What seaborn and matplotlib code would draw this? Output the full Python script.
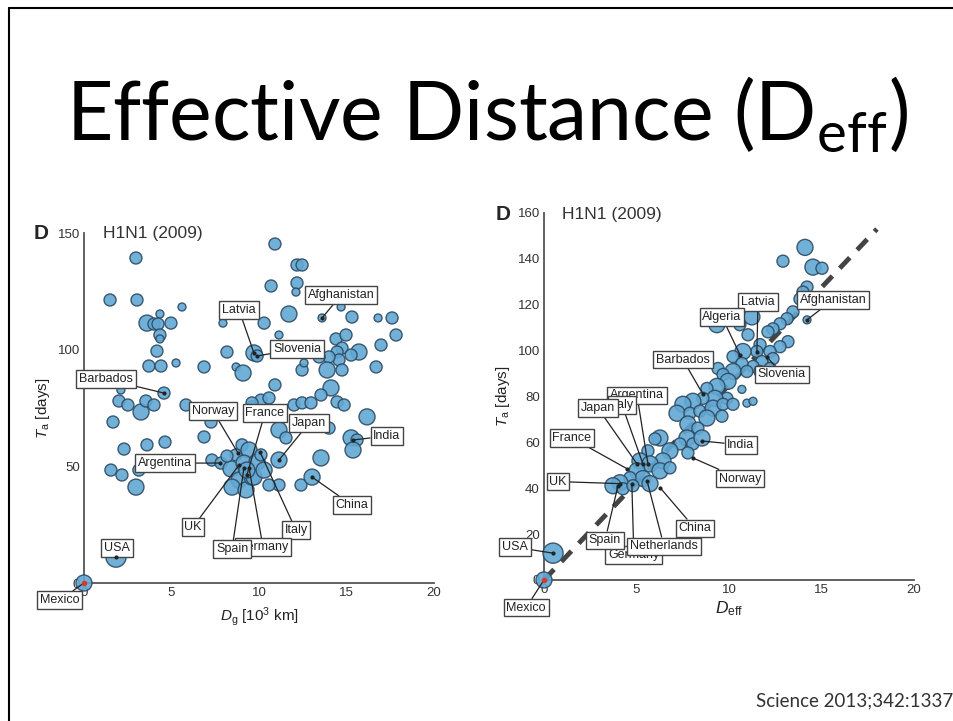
import seaborn as sns
import pandas as pd
import matplotlib.pyplot as plt

# left panel: geographic distance vs arrival time (size = traffic class)
left_dg = [2.97, 1.49, 3.03, 4.34, 5.6, 3.6, 4.0, 4.23, 4.97, 4.34, 4.34, 4.17, 3.71, 4.4, 5.26,
           6.86, 7.94, 8.17, 8.69, 9.09, 9.71, 4.57, 2.11, 2.0, 2.51, 3.26, 3.54, 4.0, 5.83, 1.66,
           6.86, 7.26, 2.29, 3.6, 4.63, 1.54, 2.17, 2.97, 3.14, 7.31, 7.83, 8.4, 9.03, 8.69, 9.43,
           8.86, 8.46, 9.26, 9.6, 9.6, 10.91, 14.11, 13.54, 14.46, 14.86, 12.0, 12.46, 12.97, 11.14,
           11.54, 14.0, 16.17, 15.26, 15.6, 15.37, 11.14, 13.54, 11.14, 12.4, 13.03, 9.71, 10.91,
           12.17, 12.46, 10.69, 12.17, 12.11, 11.71, 10.29, 11.14, 13.6, 14.69, 15.31, 16.8, 17.6,
           17.83, 16.97, 14.4, 14.97, 14.74, 15.71, 14.46, 15.26, 14.57, 14.0, 13.43, 12.46, 12.57,
           13.89, 14.74, 16.69, 9.89, 9.14, 9.89, 10.29, 10.11, 9.31, 10.57, 8.17, 10.11, 10.57,
           9.6, 1.83, 0.0]
left_ta = [139.3, 121.3, 121.3, 115.3, 118.3, 111.4, 111.0, 111.0, 111.4, 106.3, 104.6, 99.4, 93.0,
           93.0, 94.3, 92.6, 111.4, 99.0, 92.6, 90.0, 98.6, 81.4, 82.7, 78.0, 76.3, 73.3, 78.0, 76.3,
           76.3, 69.0, 62.6, 69.0, 57.4, 59.2, 60.4, 48.4, 46.3, 41.1, 48.4, 52.7, 51.4, 48.9, 59.2,
           54.9, 57.0, 44.1, 41.1, 39.9, 45.4, 75.4, 84.9, 83.6, 80.6, 77.6, 76.3, 76.3, 77.2, 77.2,
           65.6, 62.2, 66.4, 71.2, 62.2, 61.3, 57.0, 52.7, 53.6, 42.0, 42.0, 45.4, 45.4, 145.3, 136.3,
           136.3, 127.3, 128.6, 124.7, 115.3, 111.4, 106.3, 113.6, 118.3, 114.0, 113.6, 113.6, 106.3,
           102.0, 104.6, 106.3, 100.7, 99.0, 99.0, 97.7, 95.6, 96.9, 96.9, 91.3, 94.3, 91.3, 91.3,
           92.6, 97.3, 51.4, 51.9, 48.4, 54.9, 48.4, 42.0, 54.4, 78.4, 79.3, 77.2, 11.1, 0.0]
left_w = [2, 2, 2, 1, 1, 3, 2, 2, 2, 2, 1, 2, 2, 2, 1, 2, 1, 2, 1, 3, 3, 2, 1, 2, 2, 3, 2, 2, 2, 2,
          2, 2, 2, 2, 2, 2, 2, 3, 2, 2, 2, 3, 2, 2, 3, 3, 3, 3, 3, 2, 2, 3, 2, 2, 2, 2, 2, 2, 3, 2,
          2, 3, 3, 2, 3, 3, 3, 2, 2, 3, 3, 2, 2, 2, 2, 2, 1, 3, 2, 1, 1, 1, 2, 1, 2, 2, 2, 2, 2, 2,
          3, 2, 2, 2, 2, 2, 2, 1, 3, 2, 2, 2, 3, 3, 3, 2, 3, 2, 2, 2, 2, 2, 4, 3]

# right panel: effective distance vs arrival time
right_deff = [14.11, 12.92, 14.54, 15.03, 14.22, 14.0, 13.84, 14.22, 13.46, 13.14, 12.76, 12.38,
              12.11, 11.24, 10.59, 9.35, 11.03, 11.68, 13.19, 12.76, 12.22, 11.51, 10.76, 10.22,
              12.38, 11.78, 11.3, 10.7, 10.22, 9.41, 9.68, 10.97, 11.68, 12.22, 9.95, 9.35, 8.81,
              10.7, 9.89, 9.24, 8.59, 8.05, 7.51, 7.19, 7.89, 8.43, 9.14, 9.68, 10.22, 10.97, 11.3,
              8.81, 9.62, 7.78, 8.32, 7.73, 7.35, 8.05, 8.54, 6.27, 6.81, 7.78, 6.43, 5.62, 5.19,
              5.73, 6.27, 5.03, 5.35, 4.65, 4.11, 3.73, 4.27, 5.73, 4.81, 6.0, 6.81, 0.49, 0.0]
right_ta = [145.0, 139.0, 136.4, 135.9, 127.7, 125.5, 122.5, 113.4, 116.9, 113.9, 111.7, 109.5,
            108.2, 114.7, 111.3, 111.3, 106.9, 102.6, 103.9, 101.7, 99.6, 99.6, 99.6, 97.4, 96.5,
            95.2, 93.1, 94.4, 90.9, 92.2, 89.6, 90.9, 90.9, 92.2, 86.6, 84.4, 83.5, 83.1, 79.2,
            79.2, 79.2, 77.9, 76.6, 72.7, 72.7, 73.6, 74.9, 76.6, 76.6, 77.1, 77.9, 70.6, 71.4,
            68.0, 66.2, 61.9, 59.3, 59.3, 61.9, 61.9, 56.3, 55.4, 51.9, 56.3, 51.9, 50.6, 47.6,
            47.6, 44.2, 44.6, 42.4, 41.1, 39.8, 42.0, 41.1, 61.5, 48.9, 11.7, 0.0]
right_w = [3, 2, 3, 2, 2, 2, 2, 1, 2, 2, 2, 2, 2, 3, 2, 3, 2, 2, 2, 2, 2, 2, 3, 2, 2, 2, 2, 2, 3,
           2, 2, 2, 2, 2, 3, 3, 2, 1, 2, 3, 2, 3, 3, 3, 2, 2, 3, 2, 2, 1, 1, 3, 2, 3, 2, 3, 2, 2,
           3, 3, 3, 2, 3, 2, 3, 3, 3, 3, 3, 2, 3, 3, 2, 3, 2, 2, 2, 4, 3]

# labelled countries: name, point (x, y), label box centre (x, y)
left_names = ['Latvia', 'Afghanistan', 'Slovenia', 'Barbados', 'Norway', 'France', 'Japan', 'India',
              'Argentina', 'China', 'UK', 'Italy', 'Germany', 'Spain', 'USA', 'Mexico']
left_pt = [(9.71, 98.6), (13.6, 113.6), (9.89, 97.3), (4.57, 81.4), (8.8, 55.7), (9.31, 46.3),
           (11.14, 52.7), (15.37, 61.3), (7.8, 51.4), (13.03, 45.4), (8.86, 50.6), (10.06, 56.1),
           (9.43, 49.3), (9.14, 49.3), (1.83, 11.1), (0.0, 0.0)]
left_lab = [(8.86, 117.0), (14.69, 123.4), (12.17, 100.3), (1.26, 87.4), (7.37, 73.7), (10.34, 72.9),
            (12.86, 68.6), (17.31, 63.0), (4.63, 51.4), (15.31, 33.4), (6.23, 24.0), (12.11, 22.7),
            (10.23, 15.4), (8.46, 14.6), (1.89, 15.0), (-1.37, -7.3)]

right_names = ['Latvia', 'Algeria', 'Afghanistan', 'Barbados', 'Slovenia', 'Argentina', 'Italy',
               'Japan', 'France', 'India', 'Norway', 'UK', 'China', 'Germany', 'Spain',
               'Netherlands', 'USA', 'Mexico']
right_pt = [(11.51, 99.6), (10.59, 98.3), (14.22, 113.4), (8.59, 81.0), (12.05, 97.4), (5.62, 50.6),
            (5.35, 50.6), (5.03, 50.6), (4.49, 48.5), (8.54, 60.6), (8.05, 53.2), (4.11, 42.0),
            (6.27, 40.3), (4.75, 42.0), (4.0, 41.0), (5.57, 43.3), (0.49, 11.7), (0.0, 0.0)]
right_lab = [(11.57, 121.2), (9.62, 114.7), (15.62, 122.1), (7.51, 96.1), (12.86, 89.6), (5.03, 80.5),
             (4.22, 76.2), (2.92, 74.9), (1.51, 61.9), (10.65, 58.9), (10.59, 44.2), (0.76, 42.9),
             (8.16, 22.5), (4.86, 10.8), (3.3, 17.3), (6.49, 14.7), (-1.57, 14.3), (-0.97, -12.1)]

sns.set_style('white')
plt.rcParams['font.family'] = ['Liberation Sans', 'DejaVu Sans']
plt.rcParams['mathtext.fontset'] = 'custom'
plt.rcParams['mathtext.rm'] = 'Liberation Sans'
plt.rcParams['mathtext.it'] = 'Liberation Sans:italic'

blue = '#62a8d3'
edge = '#2d4a63'
sizes = {1: 33, 2: 75, 3: 133, 4: 210}

fig = plt.figure(figsize=(9.54, 7.21), dpi=100)
fig.patch.set_facecolor('white')

# slide frame (top and left edge)
fig.add_artist(plt.Line2D([0.009, 0.009], [0, 0.989], color='black', lw=1.5))
fig.add_artist(plt.Line2D([0.009, 1.0], [0.989, 0.989], color='black', lw=1.5))

fig.text(0.511, 0.806, 'Effective Distance (D$_{\\mathregular{eff}}$)', ha='center', va='baseline',
         fontsize=58, family='Lato', color='black')
fig.text(0.999, 0.028, 'Science 2013;342:1337', ha='right', va='center', fontsize=13.5,
         family='Lato', color='#333333')


def style_axes(ax, xmax, ymax, yticks):
    ax.set_xlim(0, xmax)
    ax.set_ylim(0, ymax)
    for s in ['top', 'right']:
        ax.spines[s].set_visible(False)
    for s in ['left', 'bottom']:
        ax.spines[s].set_color('#555555')
        ax.spines[s].set_linewidth(1.3)
    ax.set_yticks(yticks)
    ax.set_xticks([0, 5, 10, 15, 20])
    ax.tick_params(direction='in', length=4, width=1, colors='#555555', labelsize=9.5,
                   labelcolor='#333333', pad=3)


def add_labels(ax, names, pts, labs):
    for name, p, t in zip(names, pts, labs):
        ax.annotate(name, xy=p, xytext=t, xycoords='data', textcoords='data', ha='center',
                    va='center', fontsize=9, color='#222222', annotation_clip=False,
                    bbox=dict(boxstyle='square,pad=0.22', fc='white', ec='#444444', lw=1),
                    arrowprops=dict(arrowstyle='-', color='#222222', lw=0.9,
                                    shrinkA=0, shrinkB=0))
        ax.plot(p[0], p[1], 'o', ms=2, color='#222222', clip_on=False, zorder=4)


# left panel
axl = fig.add_axes([0.088, 0.1914, 0.367, 0.4854])
dfl = pd.DataFrame({'Dg': left_dg, 'Ta': left_ta, 'w': left_w})
sns.scatterplot(data=dfl, x='Dg', y='Ta', size='w', sizes=sizes, color=blue, edgecolor=edge,
                linewidth=1, alpha=0.9, legend=False, ax=axl, clip_on=False, zorder=3)
style_axes(axl, 20, 150, [0, 50, 100, 150])
axl.set_xlabel('$D_\\mathregular{g}$ [10$^3$ km]', fontsize=11, color='#222222', labelpad=4)
axl.set_ylabel('$T_\\mathregular{a}$ [days]', fontsize=11, color='#222222', labelpad=4)
axl.plot(left_dg[-1], left_ta[-1], 'o', ms=3, color='#d33a2c', clip_on=False, zorder=5)
add_labels(axl, left_names, left_pt, left_lab)
axl.text(-0.145, 1.0, 'D', transform=axl.transAxes, fontsize=15, fontweight='bold', va='center')
axl.text(0.054, 1.0, 'H1N1 (2009)', transform=axl.transAxes, fontsize=12.5, va='center',
         color='#333333')

# right panel
axr = fig.add_axes([0.5702, 0.1956, 0.3878, 0.509])
axr.plot([0, 18], [0, 153], ls=(0, (3, 2.2)), color='#444444', lw=3.5, zorder=2, clip_on=False)
dfr = pd.DataFrame({'Deff': right_deff, 'Ta': right_ta, 'w': right_w})
sns.scatterplot(data=dfr, x='Deff', y='Ta', size='w', sizes=sizes, color=blue, edgecolor=edge,
                linewidth=1, alpha=0.9, legend=False, ax=axr, clip_on=False, zorder=3)
style_axes(axr, 20, 160, [0, 20, 40, 60, 80, 100, 120, 140, 160])
axr.set_xlabel('$D_\\mathregular{eff}$', fontsize=12.5, color='#222222', labelpad=2)
axr.set_ylabel('$T_\\mathregular{a}$ [days]', fontsize=11, color='#222222', labelpad=4)
axr.plot(right_deff[-1], right_ta[-1], 'o', ms=3, color='#d33a2c', clip_on=False, zorder=5)
add_labels(axr, right_names, right_pt, right_lab)
axr.text(-0.13, 0.995, 'D', transform=axr.transAxes, fontsize=15, fontweight='bold', va='center')
axr.text(0.05, 0.995, 'H1N1 (2009)', transform=axr.transAxes, fontsize=12.5, va='center',
         color='#333333')

fig.savefig('out.png', dpi=100)
